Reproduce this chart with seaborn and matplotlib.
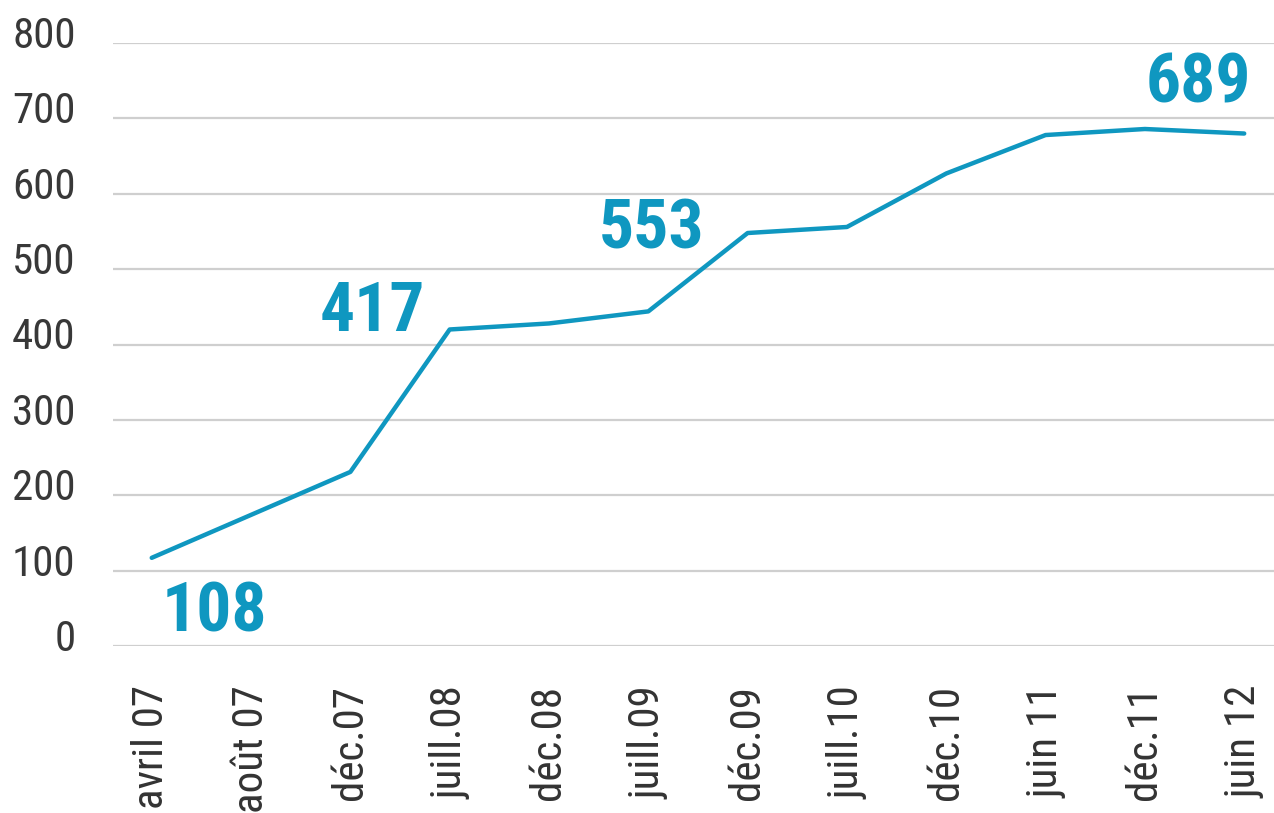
import pandas as pd
import matplotlib.pyplot as plt
import matplotlib.transforms as mtransforms
import seaborn as sns

# Data
periodes = ['avril 07', 'août 07', 'déc.07', 'juill.08', 'déc.08', 'juill.09',
            'déc.09', 'juill.10', 'déc.10', 'juin 11', 'déc.11', 'juin 12']
valeurs = [117, 174, 231, 420, 428, 444, 548, 556, 627, 678, 686, 680]
etiquettes = ['108', '417', '553', '689']
etiquette_idx = [0, 3, 6, 11]

df = pd.DataFrame({'periode': periodes, 'valeur': valeurs})
df['pos'] = range(len(df))

sns.set_style('white')
plt.rcParams['font.family'] = ['Roboto Condensed', 'Noto Sans', 'Roboto']
plt.rcParams['font.stretch'] = 'condensed'

bleu = '#0f97c0'

fig = plt.figure(figsize=(12.74, 8.13), dpi=100)
ax = fig.add_axes([0.0887, 0.2054, 0.9113, 0.7416])

sns.lineplot(data=df, x='pos', y='valeur', color=bleu, linewidth=3.2, ax=ax)

ax.set_ylim(0, 800)
ax.set_xlim(-0.39, 11.30)
ax.set_yticks(range(0, 801, 100))
ax.set_xticks(df['pos'])
ax.set_xticklabels(periodes, rotation=90, fontsize=31, color='#333333')
ax.tick_params(axis='y', labelsize=31, labelcolor='#383838', length=0, pad=27)
ax.tick_params(axis='x', length=0, pad=28)
ax.yaxis.grid(True, color='#cfcfcf', linewidth=1.6)
ax.set_axisbelow(True)
for s in ax.spines.values():
    s.set_visible(False)
ax.set_xlabel('')
ax.set_ylabel('')

# y labels sit a little above their gridline in the original
decal = mtransforms.ScaledTranslation(0, 8 / 72, fig.dpi_scale_trans)
for t in ax.get_yticklabels():
    t.set_transform(t.get_transform() + decal)

# value labels (offsets in points from the data point)
offsets = [(45, -40), (-56, 12), (-69, 2), (-33, 36)]
for lab, i, off in zip(etiquettes, etiquette_idx, offsets):
    ax.annotate(lab, (df['pos'][i], df['valeur'][i]), xytext=off,
                textcoords='offset points', ha='center', va='center',
                fontsize=50, fontweight='bold', color=bleu)

plt.savefig('out.png', dpi=100)
plt.close()
